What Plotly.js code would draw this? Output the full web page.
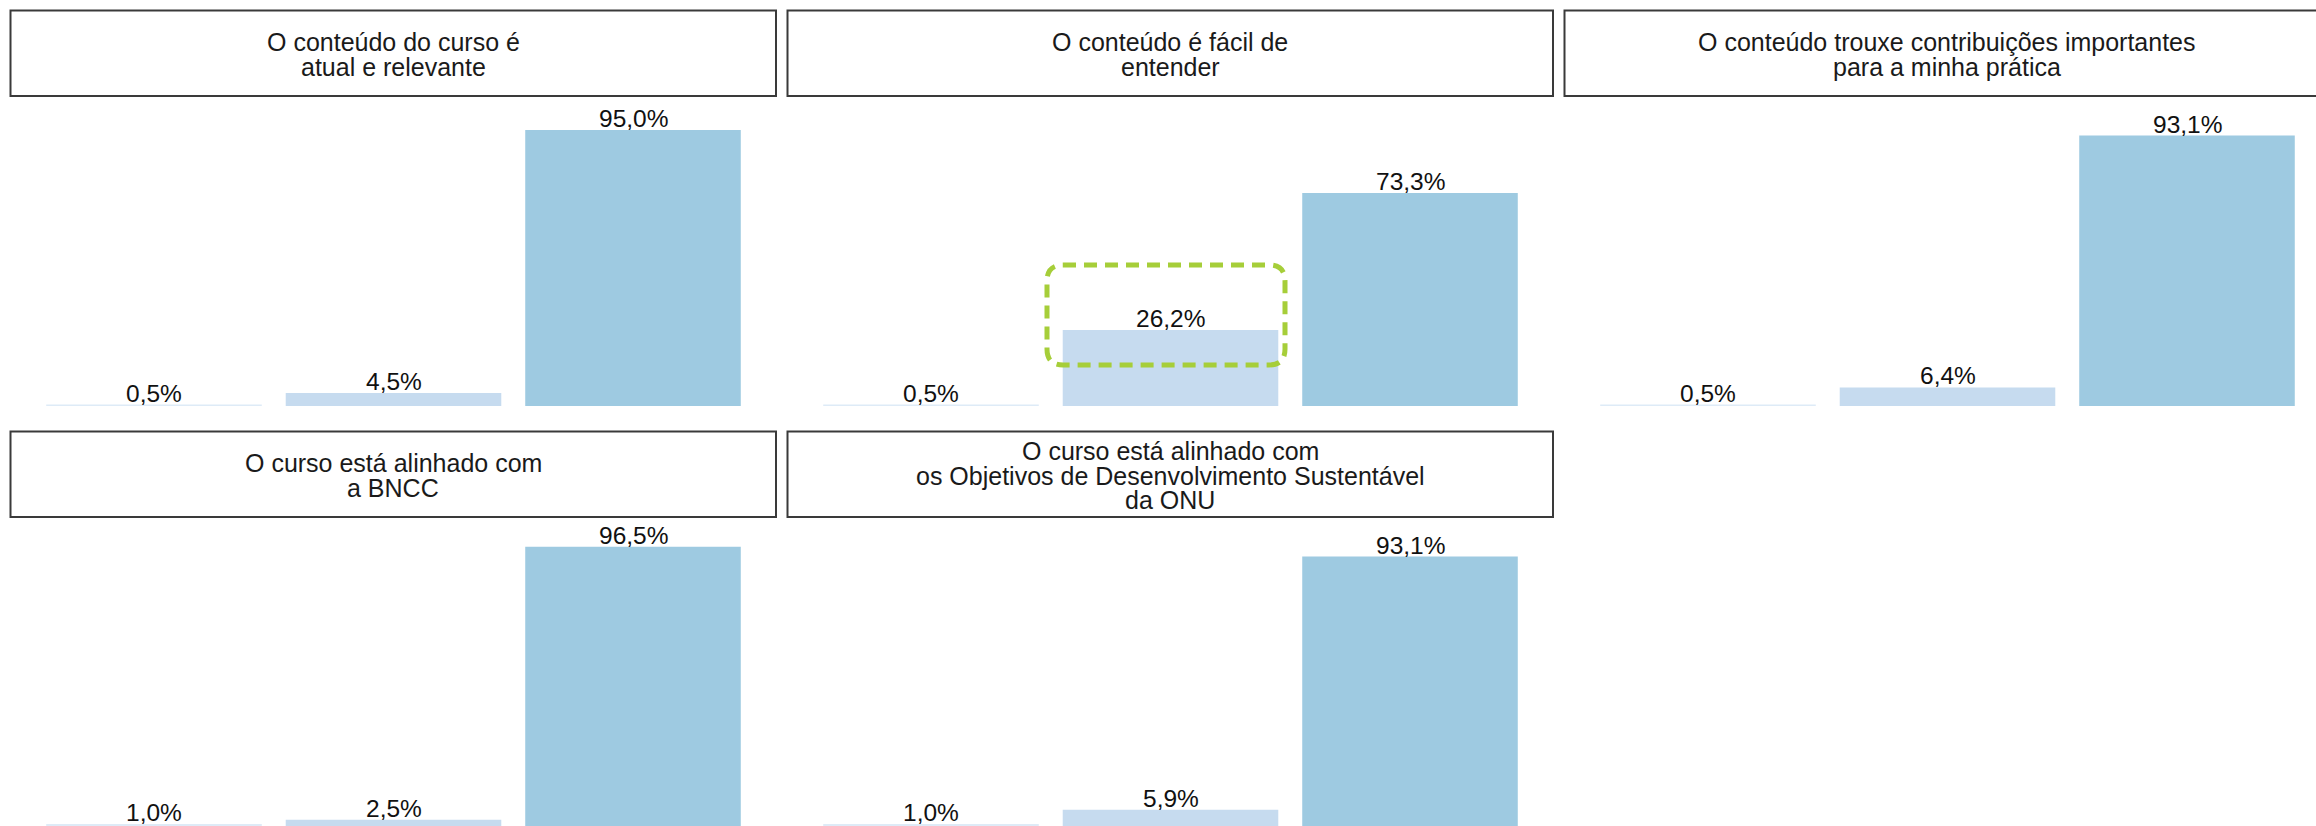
<!DOCTYPE html>
<html>
<head>
<meta charset="utf-8">
<script src="https://cdn.plot.ly/plotly-3.0.1.min.js"></script>
<style>
html,body{margin:0;padding:0;background:#fff;overflow:hidden;}
#chart{width:2316px;height:826px;}
</style>
</head>
<body>
<div id="chart"></div>
<script>
// ---- Data ----
const categories = ['Discordo', 'Neutro', 'Concordo'];
const barColors = ['#DEEBF7', '#C6DBEF', '#9ECAE1'];

const title1 = ['O conteúdo do curso é', 'atual e relevante'];
const title2 = ['O conteúdo é fácil de', 'entender'];
const title3 = ['O conteúdo trouxe contribuições importantes', 'para a minha prática'];
const title4 = ['O curso está alinhado com', 'a BNCC'];
const title5 = ['O curso está alinhado com', 'os Objetivos de Desenvolvimento Sustentável', 'da ONU'];

const values1 = [0.5, 4.5, 95.0];
const values2 = [0.5, 26.2, 73.3];
const values3 = [0.5, 6.4, 93.1];
const values4 = [1.0, 2.5, 96.5];
const values5 = [1.0, 5.9, 93.1];

// ---- Layout helpers ----
const W = 2316, H = 826;
const px = x => x / W;
const py = y => 1 - y / H;
const FONT = 'Liberation Sans, Arial, Helvetica, sans-serif';
const fmt = v => v.toFixed(1).replace('.', ',') + '%';

const panels = [
  {titles: title1, values: values1, col: 0, row: 0},
  {titles: title2, values: values2, col: 1, row: 0},
  {titles: title3, values: values3, col: 2, row: 0},
  {titles: title4, values: values4, col: 0, row: 1},
  {titles: title5, values: values5, col: 1, row: 1}
];

const colStep = 777, rowStep = 421;
const data = [];
const layout = {
  width: W, height: H,
  margin: {l: 0, r: 0, t: 0, b: 0},
  paper_bgcolor: '#ffffff',
  plot_bgcolor: 'rgba(0,0,0,0)',
  separators: ',.',
  showlegend: false,
  bargap: 0.1,
  shapes: [],
  annotations: []
};

panels.forEach((p, i) => {
  const n = i + 1;
  const xa = 'xaxis' + (n === 1 ? '' : n);
  const ya = 'yaxis' + (n === 1 ? '' : n);
  const xr = 'x' + (n === 1 ? '' : n);
  const yr = 'y' + (n === 1 ? '' : n);
  const xOff = p.col * colStep;
  const x0 = 34.25 + xOff, x1 = 752.75 + xOff;
  let ydom, yrange;
  if (p.row === 0) {
    ydom = [py(406), py(115.5)];
    yrange = [0, 100];
  } else {
    ydom = [0, py(535.5)];
    yrange = [0.344, 100.344];
  }
  layout[xa] = {domain: [px(x0), px(x1)], anchor: yr, type: 'category', range: [-0.5, 2.5],
    showgrid: false, zeroline: false, showline: false, showticklabels: false, ticks: '', fixedrange: true};
  layout[ya] = {domain: ydom, anchor: xr, range: yrange,
    showgrid: false, zeroline: false, showline: false, showticklabels: false, ticks: '', fixedrange: true};

  data.push({
    type: 'bar', x: categories, y: p.values, xaxis: xr, yaxis: yr,
    marker: {color: barColors, line: {width: 0}},
    hoverinfo: 'skip'
  });

  // value labels just above each bar
  categories.forEach((c, k) => {
    layout.annotations.push({xref: xr, yref: yr, x: c, y: p.values[k],
      xanchor: 'center', yanchor: 'bottom', yshift: -4, showarrow: false,
      text: fmt(p.values[k]), font: {family: FONT, size: 24.5, color: '#111111'}});
  });

  // title box
  const bTop = 10.5 + p.row * rowStep, bBot = 96 + p.row * rowStep;
  const bL = 10.5 + xOff, bR = 776 + xOff;
  layout.shapes.push({type: 'rect', xref: 'paper', yref: 'paper',
    x0: px(bL), x1: px(bR), y0: py(bBot), y1: py(bTop),
    line: {color: '#3a3a3a', width: 2}, fillcolor: 'rgba(0,0,0,0)'});
  const C = (bTop + bBot) / 2 + 1.5;
  const nl = p.titles.length, sp = 24.7;
  p.titles.forEach((t, k) => {
    const yc = C + (k - (nl - 1) / 2) * sp;
    layout.annotations.push({xref: 'paper', yref: 'paper', x: px((bL + bR) / 2), y: py(yc),
      xanchor: 'center', yanchor: 'middle', showarrow: false, text: t,
      font: {family: FONT, size: 25, color: '#1a1a1a'}});
  });
});

// highlight box (dashed, rounded) around the "Neutro" bar of panel 2
(function(){
  const L = 1047, R = 1285, T = 265, B = 365, r = 16;
  const P = (x, y) => px(x) + ',' + py(y);
  const path = 'M ' + P(L + r, T) + ' L ' + P(R - r, T) + ' Q ' + P(R, T) + ' ' + P(R, T + r) +
    ' L ' + P(R, B - r) + ' Q ' + P(R, B) + ' ' + P(R - r, B) +
    ' L ' + P(L + r, B) + ' Q ' + P(L, B) + ' ' + P(L, B - r) +
    ' L ' + P(L, T + r) + ' Q ' + P(L, T) + ' ' + P(L + r, T) + ' Z';
  layout.shapes.push({type: 'path', xref: 'paper', yref: 'paper', path: path,
    line: {color: '#A6CE39', width: 5, dash: '13px,8px'}, fillcolor: 'rgba(0,0,0,0)'});
})();

Plotly.newPlot('chart', data, layout, {staticPlot: true, displayModeBar: false});
</script>
</body>
</html>
